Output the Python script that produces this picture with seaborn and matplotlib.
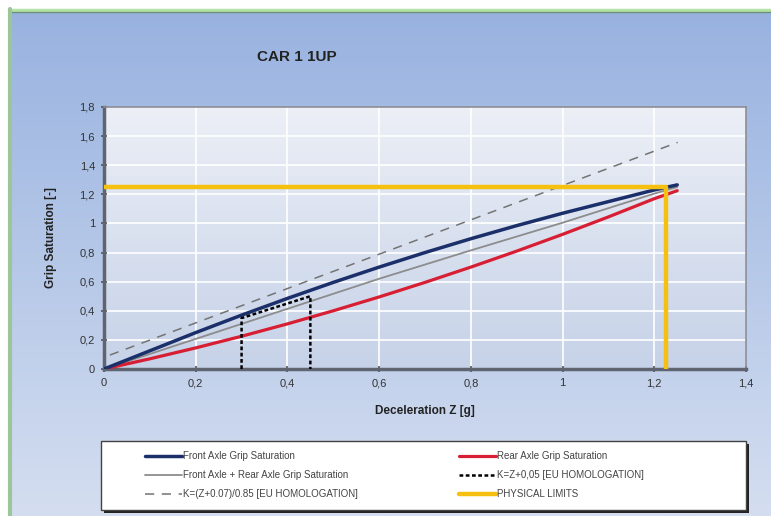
import numpy as np
import pandas as pd
import matplotlib
matplotlib.use("Agg")
import matplotlib.pyplot as plt
import seaborn as sns
from matplotlib.patches import Rectangle
from matplotlib.lines import Line2D

# curves
z_front = [0.0, 0.1, 0.2, 0.3, 0.4, 0.5, 0.6, 0.7, 0.8, 0.9, 1.0, 1.1, 1.2, 1.25]
k_front = [0.0, 0.125, 0.25, 0.37, 0.485, 0.595, 0.70, 0.80, 0.895, 0.985, 1.07, 1.15, 1.23, 1.265]
z_rear = [0.0, 0.1, 0.2, 0.3, 0.4, 0.5, 0.6, 0.7, 0.8, 0.9, 1.0, 1.1, 1.2, 1.25]
k_rear = [0.0, 0.07, 0.145, 0.225, 0.31, 0.40, 0.495, 0.595, 0.70, 0.81, 0.925, 1.045, 1.17, 1.225]
z_comb = [0.0, 0.15, 0.3, 0.45, 0.6, 0.8, 0.9, 1.0, 1.2, 1.25]
k_comb = [0.0, 0.155, 0.31, 0.465, 0.62, 0.815, 0.91, 1.005, 1.205, 1.25]
z_dash = [0.013, 1.251]
k_dash = [0.096, 1.557]
z_dot = [0.3, 0.3, 0.45, 0.45]
k_dot = [0.0, 0.35, 0.5, 0.0]
z_lim = [0.0, 1.225, 1.225]
k_lim = [1.25, 1.25, 0.0]

x_ticks = [0, 0.2, 0.4, 0.6, 0.8, 1.0, 1.2, 1.4]
x_labels = ["0", "0,2", "0,4", "0,6", "0,8", "1", "1,2", "1,4"]
y_ticks = [0, 0.2, 0.4, 0.6, 0.8, 1.0, 1.2, 1.4, 1.6, 1.8]
y_labels = ["0", "0,2", "0,4", "0,6", "0,8", "1", "1,2", "1,4", "1,6", "1,8"]

sns.set_style("white")
plt.rcParams['font.family'] = ['Liberation Sans', 'DejaVu Sans']

W, H = 771, 516
fig = plt.figure(figsize=(W / 100, H / 100), dpi=100, facecolor="white")

# chart area background (blue gradient)
bg = fig.add_axes([10 / W, 0, 1 - 10 / W, 1 - 11 / H], zorder=-10)
grad = np.linspace(0, 1, 256).reshape(-1, 1)
top_c = np.array([152, 178, 224]) / 255
bot_c = np.array([212, 222, 240]) / 255
img = top_c + (bot_c - top_c) * grad[:, :, None]
bg.imshow(img, aspect="auto", extent=[0, 1, 0, 1])
bg.set_axis_off()
fig.add_artist(Line2D([9 / W, 1], [1 - 9.5 / H, 1 - 9.5 / H], color="#b4e3a8", lw=2.5))
fig.add_artist(Line2D([9 / W, 1], [1 - 11.5 / H, 1 - 11.5 / H], color="#6f8f7a", lw=1))
fig.add_artist(Line2D([9.5 / W, 9.5 / W], [0, 1 - 9 / H], color="#9cc59a", lw=3))

ax = fig.add_axes([104 / W, 1 - 369 / H, 642 / W, 262 / H])
pa = np.array([236, 239, 246]) / 255
pb = np.array([198, 210, 232]) / 255
ax.imshow(pa + (pb - pa) * grad[:, :, None], aspect="auto",
          extent=[0, 1.4, 0, 1.8], zorder=0)

ax.grid(True, color="white", lw=1.2)

sns.lineplot(x=z_dash, y=k_dash, ax=ax, color="#737373", lw=1.1,
             linestyle=(0, (6, 5)), sort=False, estimator=None, zorder=3)
sns.lineplot(x=z_comb, y=k_comb, ax=ax, color="#8c8c8c", lw=1.3,
             sort=False, estimator=None, zorder=3)
sns.lineplot(x=z_rear, y=k_rear, ax=ax, color="#d81e33", lw=2.3,
             sort=False, estimator=None, zorder=4)
sns.lineplot(x=z_front, y=k_front, ax=ax, color="#1b2f6a", lw=2.5,
             sort=False, estimator=None, zorder=4)
sns.lineplot(x=z_dot, y=k_dot, ax=ax, color="black", lw=1.8,
             linestyle=(0, (1.5, 1)), sort=False, estimator=None, zorder=5)
sns.lineplot(x=z_lim, y=k_lim, ax=ax, color="#f5c010", lw=3.2,
             sort=False, estimator=None, zorder=6)

ax.set_xlim(0, 1.4)
ax.set_ylim(0, 1.8)
ax.set_xticks(x_ticks)
ax.set_xticklabels(x_labels)
ax.set_yticks(y_ticks)
ax.set_yticklabels(y_labels)
ax.tick_params(axis="both", direction="inout", length=5, width=1.2,
               color="#555555", labelcolor="#333333", labelsize=8, pad=4)
ax.tick_params(left=True, bottom=True)
for side in ["left", "bottom"]:
    ax.spines[side].set_color("#5f6470")
    ax.spines[side].set_linewidth(2.5)
for side in ["top", "right"]:
    ax.spines[side].set_color("#8c8c96")
    ax.spines[side].set_linewidth(1.2)

ax.set_xlabel("Deceleration Z [g]", fontsize=8.5, fontweight="bold",
              color="#222222", labelpad=12)
ax.set_ylabel("Grip Saturation [-]", fontsize=8.5, fontweight="bold",
              color="#222222", labelpad=16)
fig.text(297 / W, 1 - 57 / H, "CAR 1 1UP", fontsize=11, fontweight="bold",
         color="#222222", ha="center", va="center")

# legend box
fig.add_artist(Rectangle((104 / W, 1 - 513 / H), 645 / W, 69 / H,
                         transform=fig.transFigure, facecolor="#222222",
                         edgecolor="none", zorder=8))
fig.add_artist(Rectangle((101 / W, 1 - 510 / H), 645 / W, 69 / H,
                         transform=fig.transFigure, facecolor="white",
                         edgecolor="#444444", lw=1, zorder=9))

h_front = Line2D([], [], color="#1b2f6a", lw=2.5)
h_rear = Line2D([], [], color="#d81e33", lw=2.3)
h_comb = Line2D([], [], color="#8c8c8c", lw=1.3)
h_dot = Line2D([], [], color="black", lw=1.8, linestyle=(0, (1.5, 1)))
h_dash = Line2D([], [], color="#737373", lw=1.1, linestyle=(0, (6, 5)))
h_lim = Line2D([], [], color="#f5c010", lw=3.2)

leg_kw = dict(loc="upper left", frameon=False, fontsize=7, handlelength=3.8,
              handletextpad=0.1, labelspacing=0.95, borderpad=0,
              borderaxespad=0, labelcolor="#444444")
leg1 = fig.legend([h_front, h_comb, h_dash],
                  ["Front Axle Grip Saturation",
                   "Front Axle + Rear Axle Grip Saturation",
                   "K=(Z+0.07)/0.85 [EU HOMOLOGATION]"],
                  bbox_to_anchor=(145 / W, 1 - 451 / H), **leg_kw)
leg1.set_zorder(10)
leg2 = fig.legend([h_rear, h_dot, h_lim],
                  ["Rear Axle Grip Saturation",
                   "K=Z+0,05 [EU HOMOLOGATION]",
                   "PHYSICAL LIMITS"],
                  bbox_to_anchor=(459 / W, 1 - 451 / H), **leg_kw)
leg2.set_zorder(10)

fig.savefig("out.png", dpi=100, facecolor="white")
